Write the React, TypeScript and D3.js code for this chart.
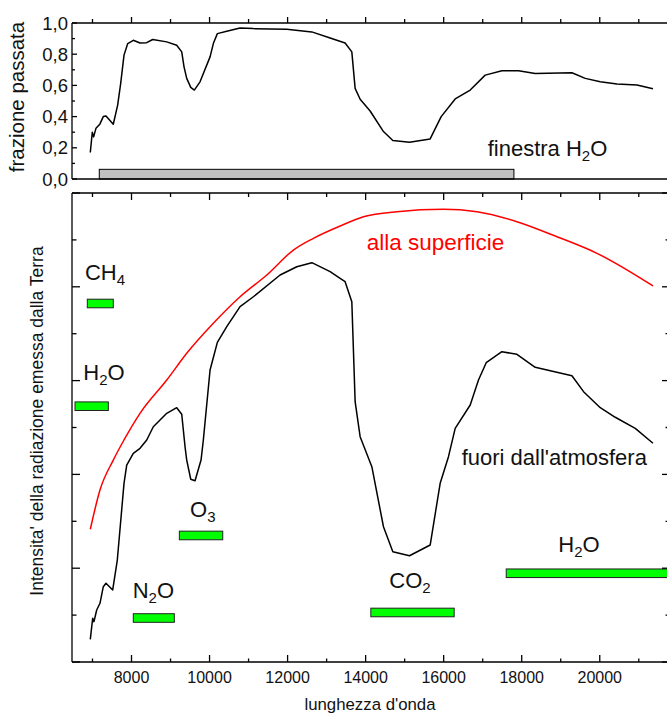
import React, { useEffect, useRef } from 'react';
import * as d3 from 'd3';

// top panel: fraction transmitted
const waveTop = [6944, 6995, 7030, 7090, 7192, 7277, 7346, 7533, 7645, 7723, 7808, 7903, 8046, 8218, 8389, 8543, 8902, 9158, 9287, 9346, 9415, 9518, 9610, 9756, 10013, 10097, 10200, 10441, 10782, 11123, 11978, 12620, 13090, 13474, 13646, 13731, 13859, 14115, 14457, 14697, 15124, 15654, 15936, 16295, 16680, 17064, 17492, 17919, 18346, 19287, 19628, 20013, 20440, 20953, 21364];
const passTop = [0.17, 0.30, 0.27, 0.326, 0.353, 0.40, 0.404, 0.351, 0.474, 0.613, 0.794, 0.868, 0.889, 0.872, 0.874, 0.894, 0.879, 0.857, 0.815, 0.719, 0.645, 0.587, 0.570, 0.623, 0.783, 0.868, 0.932, 0.947, 0.968, 0.964, 0.96, 0.943, 0.904, 0.872, 0.815, 0.581, 0.511, 0.436, 0.304, 0.247, 0.236, 0.257, 0.40, 0.513, 0.570, 0.666, 0.694, 0.694, 0.677, 0.681, 0.645, 0.623, 0.609, 0.602, 0.579];
const windowRange = [7174, 17800];
const windowHeight = 0.062;
const topTicks = [0, 0.2, 0.4, 0.6, 0.8, 1.0];
const topTickLabels = ['0,0', '0,2', '0,4', '0,6', '0,8', '1,0'];

// bottom panel: emitted radiation
const waveSurf = [6944, 7192, 7533, 7808, 8218, 8903, 9415, 10097, 10782, 11467, 12149, 12662, 13346, 13944, 14800, 15995, 16851, 17877, 18903, 19928, 21364];
const surfVals = [1.415, 1.834, 2.153, 2.367, 2.651, 3.006, 3.291, 3.611, 3.894, 4.126, 4.392, 4.517, 4.648, 4.747, 4.801, 4.826, 4.801, 4.694, 4.534, 4.357, 4.009];
const waveOut = [6944, 7005, 7038, 7108, 7192, 7277, 7346, 7518, 7636, 7808, 7877, 8046, 8218, 8390, 8559, 8903, 9159, 9287, 9372, 9415, 9518, 9628, 9782, 9841, 10013, 10200, 10441, 10782, 11123, 11808, 12236, 12621, 13090, 13346, 13474, 13646, 13731, 13859, 14159, 14457, 14697, 15124, 15654, 15910, 16123, 16295, 16680, 16892, 17090, 17492, 17877, 18346, 19287, 19585, 20013, 20397, 20910, 21364];
const outVals = [0.242, 0.466, 0.43, 0.554, 0.626, 0.803, 0.839, 0.768, 1.087, 1.905, 2.1, 2.225, 2.278, 2.367, 2.508, 2.651, 2.711, 2.641, 2.295, 2.153, 1.948, 1.933, 2.153, 2.367, 3.113, 3.408, 3.575, 3.788, 3.894, 4.126, 4.214, 4.257, 4.161, 4.091, 4.055, 3.841, 2.775, 2.402, 2.082, 1.442, 1.176, 1.133, 1.247, 1.905, 2.189, 2.491, 2.74, 3.006, 3.191, 3.308, 3.28, 3.142, 3.052, 2.882, 2.711, 2.609, 2.491, 2.332];

// absorption bands
const bandMain = ['CH', 'H', 'O', 'N', 'CO', 'H'];
const bandSub = ['4', '2', '3', '2', '2', '2'];
const bandTail = ['', 'O', '', 'O', '', 'O'];
const bandStart = [6867, 6552, 9226, 8046, 14133, 17603];
const bandEnd = [7533, 7406, 10338, 9097, 16269, 22200];
const bandLevel = [3.822, 2.727, 1.349, 0.469, 0.528, 0.946];
const labelX = [6808, 6765, 9499, 8031, 14607, 18938];
const labelLevel = [4.073, 3.006, 1.549, 0.679, 0.786, 1.176];

const xTickMajor = [8000, 10000, 12000, 14000, 16000, 18000, 20000];
const xTickMinor = [7000, 9000, 11000, 13000, 15000, 17000, 19000, 21000];

const FONT = "'Liberation Sans', Arial, Helvetica, sans-serif";

const App = () => {
  const svgRef = useRef<SVGSVGElement>(null);

  useEffect(() => {
    const svg = d3.select(svgRef.current);
    svg.selectAll('*').remove();

    const x = d3.scaleLinear().domain([6475, 21800]).range([72, 670]);
    const yTop = d3.scaleLinear().domain([0, 1]).range([179, 23]);
    const yBot = d3.scaleLinear().domain([0, 5]).range([662, 193]);

    const g = svg.append('g').attr('font-family', FONT);

    const tick = (x1: number, y1: number, x2: number, y2: number) =>
      g.append('line')
        .attr('x1', x1).attr('y1', y1).attr('x2', x2).attr('y2', y2)
        .attr('stroke', 'black').attr('stroke-width', 1.3);

    // ---- top panel ----
    g.append('rect')
      .attr('x', x(windowRange[0]))
      .attr('y', yTop(windowHeight))
      .attr('width', x(windowRange[1]) - x(windowRange[0]))
      .attr('height', yTop(0) - yTop(windowHeight))
      .attr('fill', '#c0c0c0')
      .attr('stroke', 'black')
      .attr('stroke-width', 1);

    const lineTop = d3.line<number>()
      .x((d, i) => x(waveTop[i]))
      .y(d => yTop(d));
    g.append('path')
      .datum(passTop)
      .attr('fill', 'none')
      .attr('stroke', 'black')
      .attr('stroke-width', 1.5)
      .attr('stroke-linejoin', 'round')
      .attr('d', lineTop);

    // frame
    tick(72, 23, 670, 23);
    tick(72, 23, 72, 179);
    tick(72, 179, 670, 179);

    // y ticks top panel
    d3.range(0, 11).forEach(i => {
      const v = i / 10;
      tick(72, yTop(v), 72 + (i % 2 === 0 ? 5 : 3), yTop(v));
    });
    topTicks.forEach((v, i) => {
      g.append('text')
        .attr('x', 68)
        .attr('y', yTop(v))
        .attr('dy', '0.36em')
        .attr('text-anchor', 'end')
        .attr('font-size', 18.5)
        .attr('fill', '#111')
        .text(topTickLabels[i]);
    });
    // x ticks on top edge, pointing up
    xTickMajor.forEach(v => tick(x(v), 23, x(v), 17));
    xTickMinor.forEach(v => tick(x(v), 23, x(v), 19));

    g.append('text')
      .attr('transform', `translate(24,97) rotate(-90)`)
      .attr('text-anchor', 'middle')
      .attr('font-size', 20.5)
      .attr('fill', '#111')
      .text('frazione passata');

    const fin = g.append('text')
      .attr('x', x(17128))
      .attr('y', yTop(0.145))
      .attr('font-size', 22)
      .attr('fill', '#111');
    fin.append('tspan').text('finestra H');
    fin.append('tspan').attr('font-size', 15).attr('dy', 5).text('2');
    fin.append('tspan').attr('dy', -5).text('O');

    // ---- bottom panel ----
    const lineSurf = d3.line<number>()
      .x((d, i) => x(waveSurf[i]))
      .y(d => yBot(d))
      .curve(d3.curveMonotoneX);
    g.append('path')
      .datum(surfVals)
      .attr('fill', 'none')
      .attr('stroke', 'red')
      .attr('stroke-width', 1.5)
      .attr('d', lineSurf);

    const lineOut = d3.line<number>()
      .x((d, i) => x(waveOut[i]))
      .y(d => yBot(d));
    g.append('path')
      .datum(outVals)
      .attr('fill', 'none')
      .attr('stroke', 'black')
      .attr('stroke-width', 1.5)
      .attr('stroke-linejoin', 'round')
      .attr('d', lineOut);

    // bands
    bandMain.forEach((name, i) => {
      g.append('rect')
        .attr('x', x(bandStart[i]))
        .attr('y', yBot(bandLevel[i]) - 4.3)
        .attr('width', x(bandEnd[i]) - x(bandStart[i]))
        .attr('height', 8.6)
        .attr('fill', '#00ff00')
        .attr('stroke', '#222')
        .attr('stroke-width', 1);
      const t = g.append('text')
        .attr('x', x(labelX[i]))
        .attr('y', yBot(labelLevel[i]))
        .attr('font-size', 22)
        .attr('fill', '#111');
      t.append('tspan').text(name);
      t.append('tspan').attr('font-size', 15).attr('dy', 5).text(bandSub[i]);
      if (bandTail[i]) t.append('tspan').attr('dy', -5).text(bandTail[i]);
    });

    g.append('text')
      .attr('x', x(14028))
      .attr('y', yBot(4.39))
      .attr('font-size', 22.5)
      .attr('fill', 'red')
      .text('alla superficie');

    g.append('text')
      .attr('x', x(16462))
      .attr('y', yBot(2.1))
      .attr('font-size', 22)
      .attr('fill', '#111')
      .text("fuori dall'atmosfera");

    // frame
    tick(72, 193, 670, 193);
    tick(72, 193, 72, 662);
    tick(72, 662, 670, 662);
    tick(670, 193, 670, 662);

    d3.range(0, 11).forEach(i => {
      const v = i / 2;
      const len = i % 2 === 0 ? 8 : 4.5;
      tick(72, yBot(v), 72 + len, yBot(v));
      tick(670, yBot(v), 670 - len, yBot(v));
    });
    xTickMajor.forEach(v => {
      tick(x(v), 193, x(v), 200);
      tick(x(v), 662, x(v), 655);
      g.append('text')
        .attr('x', x(v))
        .attr('y', 683)
        .attr('text-anchor', 'middle')
        .attr('font-size', 16)
        .attr('fill', '#111')
        .text(v);
    });
    xTickMinor.forEach(v => {
      tick(x(v), 193, x(v), 197);
      tick(x(v), 662, x(v), 658.5);
    });

    g.append('text')
      .attr('x', 370)
      .attr('y', 710)
      .attr('text-anchor', 'middle')
      .attr('font-size', 16.8)
      .attr('fill', '#111')
      .text("lunghezza d'onda");

    g.append('text')
      .attr('transform', `translate(43,421) rotate(-90)`)
      .attr('text-anchor', 'middle')
      .attr('font-size', 17.5)
      .attr('fill', '#111')
      .text("Intensita' della radiazione emessa dalla Terra");
  }, []);

  return (
    <svg
      ref={svgRef}
      width={667}
      height={713}
      style={{ position: 'absolute', left: 0, top: 0, background: 'white' }}
    />
  );
};

export default App;
